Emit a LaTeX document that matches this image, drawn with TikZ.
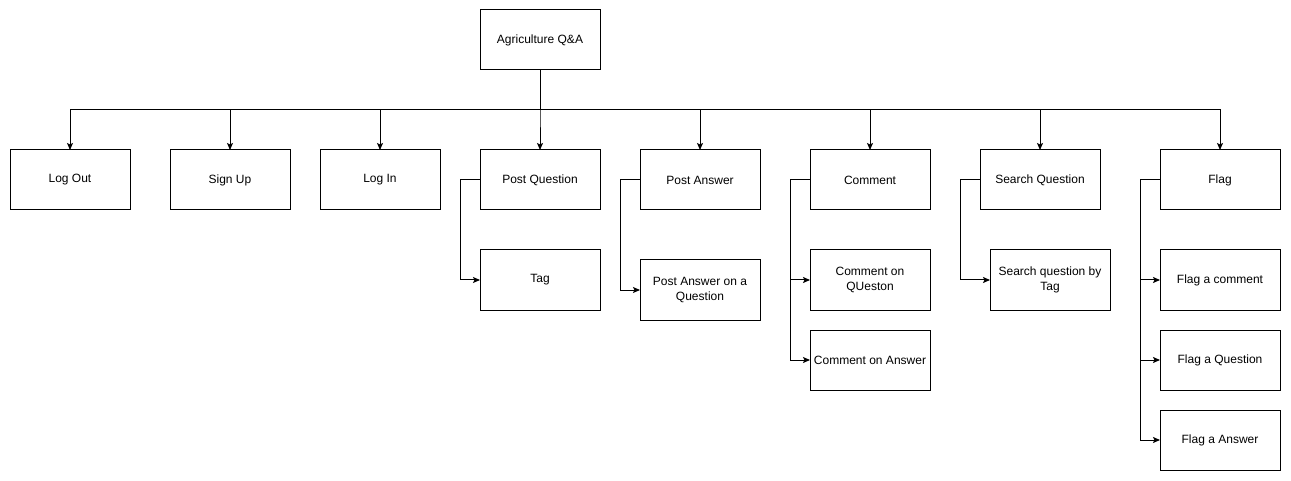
\documentclass[tikz,border=0pt]{standalone}
\usepackage{fontspec}
\setmainfont{Liberation Sans}
\usetikzlibrary{arrows.meta,calc,positioning}

\begin{document}
\begin{tikzpicture}[x=1pt,y=-1pt,line width=1pt,node distance=40pt and 40pt,
    box/.style={draw,minimum width=120pt,minimum height=60pt,inner sep=0pt,
                outer sep=0pt,align=center,font=\fontsize{12}{15}\selectfont},
    arr/.style={-{Stealth[length=7pt,width=6pt,inset=1.5pt]}}]
    \useasboundingbox (0,0) rectangle (1291,481);
    % top level
    \node[box] (root) at (540,40) {Agriculture Q\&A};
    \node[box,below=80pt of root] (postq) {Post Question};
    \node[box,left=of postq] (login) {Log In};
    \node[box,left=30pt of login] (signup) {Sign Up};
    \node[box,left=of signup] (logout) {Log Out};
    \node[box,right=of postq] (posta) {Post Answer};
    \node[box,right=50pt of posta] (comment) {Comment};
    \node[box,right=50pt of comment] (searchq) {Search Question};
    \node[box,right=60pt of searchq] (flag) {Flag};
    % second level
    \node[box,below=of postq] (tag) {Tag};
    \node[box,below=50pt of posta] (answerq) {Post Answer on a\\Question};
    \node[box,below=of comment] (commentq) {Comment on\\QUeston};
    \node[box,below=20pt of commentq] (commenta) {Comment on Answer};
    \node[box,below=of searchq,xshift=10pt] (searchtag) {Search question by\\Tag};
    \node[box,below=of flag] (flagc) {Flag a comment};
    \node[box,below=20pt of flagc] (flagq) {Flag a Question};
    \node[box,below=20pt of flagq] (flaga) {Flag a Answer};
    % connectors
    \coordinate (bus) at ($(root.south)!0.5!(postq.north)$);
    \foreach \n in {logout,signup,login,postq,posta,comment,searchq,flag}
      \draw[arr] (root.south) -- (bus) -| (\n.north);
    \draw[arr] (postq.west) -- ++(-20,0) |- (tag.west);
    \draw[arr] (posta.west) -- ++(-20,0) |- (answerq.west);
    \foreach \n in {commentq,commenta}
      \draw[arr] (comment.west) -- ++(-20,0) |- (\n.west);
    \draw[arr] (searchq.west) -- ++(-20,0) |- (searchtag.west);
    \foreach \n in {flagc,flagq,flaga}
      \draw[arr] (flag.west) -- ++(-20,0) |- (\n.west);
  \end{tikzpicture}
\end{document}
